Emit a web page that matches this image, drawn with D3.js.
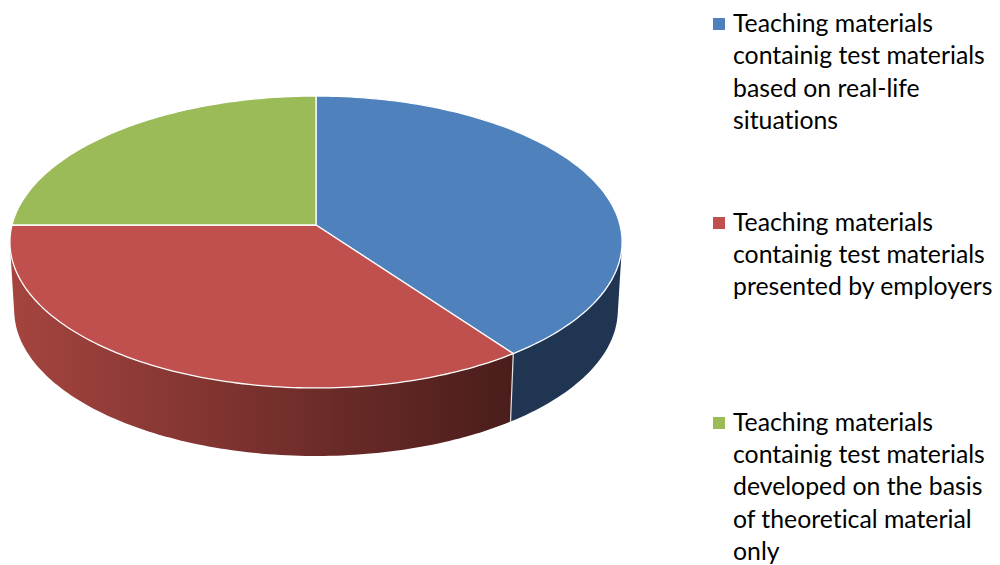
<!DOCTYPE html>
<html>
<head>
<meta charset="utf-8">
<script src="https://cdn.jsdelivr.net/npm/d3@7"></script>
<style>
  html, body { margin: 0; padding: 0; background: #fff; }
  svg { display: block; }
  .legend text { font-family: Lato, "Open Sans", sans-serif; font-size: 24.8px; font-variant-ligatures: none; fill: #000; }
</style>
</head>
<body>
<div id="chart"></div>
<script>
var categories = ["Blue", "Red", "Green"];
var shares = [40, 35, 25];
var legendLines = [
  ["Teaching materials", "containig test materials", "based on real-life", "situations"],
  ["Teaching materials", "containig test materials", "presented by employers"],
  ["Teaching materials", "containig test materials", "developed on the basis", "of theoretical material", "only"]
];
var topColors = ["#4f81bd", "#c0504d", "#9bbb59"];
var legendTops = [23, 221.5, 421.5];

var width = 1000, height = 565;
var cx = 316, cy = 225;

/** Tilted disc: perspective numbers */
var persp = 0.1164, radiusX = 304, radiusY = 144;
var depth = 68, depthScale = 0.986;

var svg = d3.select("#chart").append("svg")
  .attr("width", width)
  .attr("height", height);

var defs = svg.append("defs");
var redWall = defs.append("linearGradient")
  .attr("id", "redWall")
  .attr("gradientUnits", "userSpaceOnUse")
  .attr("x1", 12).attr("x2", 512).attr("y1", 0).attr("y2", 0);
redWall.append("stop").attr("offset", "0%").attr("stop-color", "#a5443f");
redWall.append("stop").attr("offset", "100%").attr("stop-color", "#4a1d1b");

/** Project an angle on the rim (0 is up, clockwise) to the screen */
function rimPoint(angle, lowered)
{
  var X = Math.sin(angle), Y = -Math.cos(angle);
  var w = 1 - persp * Y;
  var px = radiusX * X / w, py = radiusY * Y / w;
  if(lowered) return [cx + px * depthScale, cy + py + depth];
  return [cx + px, cy + py];
}

function rimArc(a0, a1, lowered)
{
  var n = 120, pts = [];
  for(var i = 0; i <= n; i++)
  {
    pts.push(rimPoint(a0 + (a1 - a0) * i / n, lowered));
  }
  return pts;
}

var line = d3.line();
var arcs = d3.pie().sort(null)(shares);

/** Side wall: only the front slices show it. Blue first, red covers its overlap */
var wallColors = {Blue: "#1f3552", Red: "url(#redWall)"};
var walls = arcs.filter(function(d) { return wallColors[categories[d.index]]; });

svg.append("g").selectAll("path")
  .data(walls)
  .enter().append("path")
    .attr("d", function(d) {
      var upper = rimArc(d.startAngle, d.endAngle, false);
      var lower = rimArc(d.startAngle, d.endAngle, true);
      return line(d3.polygonHull(upper.concat(lower))) + "Z";
    })
    .attr("fill", function(d) { return wallColors[categories[d.index]]; });

/** Seam between blue and red walls */
svg.append("path")
  .attr("d", line([rimPoint(arcs[0].endAngle, false), rimPoint(arcs[0].endAngle, true)]))
  .attr("fill", "none")
  .attr("stroke", "#e6e6e6")
  .attr("stroke-width", 1.2);

/** Top face */
svg.append("g").selectAll("path")
  .data(arcs)
  .enter().append("path")
    .attr("d", function(d) {
      return line([[cx, cy]].concat(rimArc(d.startAngle, d.endAngle, false))) + "Z";
    })
    .attr("fill", function(d) { return topColors[d.index]; })
    .attr("stroke", "#fff")
    .attr("stroke-width", 1.3)
    .attr("stroke-linejoin", "round");

/** Legend */
var legend = svg.append("g").attr("class", "legend");
legendLines.forEach(function(lines, i)
{
  legend.append("rect")
    .attr("x", 713)
    .attr("y", Math.ceil(legendTops[i] - 5))
    .attr("width", 12)
    .attr("height", 12)
    .attr("fill", topColors[i]);
  legend.selectAll(null)
    .data(lines)
    .enter().append("text")
      .attr("x", 733)
      .attr("y", function(d, j) { return legendTops[i] + 9 + j * 32.4; })
      .text(function(d) { return d; });
});
</script>
</body>
</html>
